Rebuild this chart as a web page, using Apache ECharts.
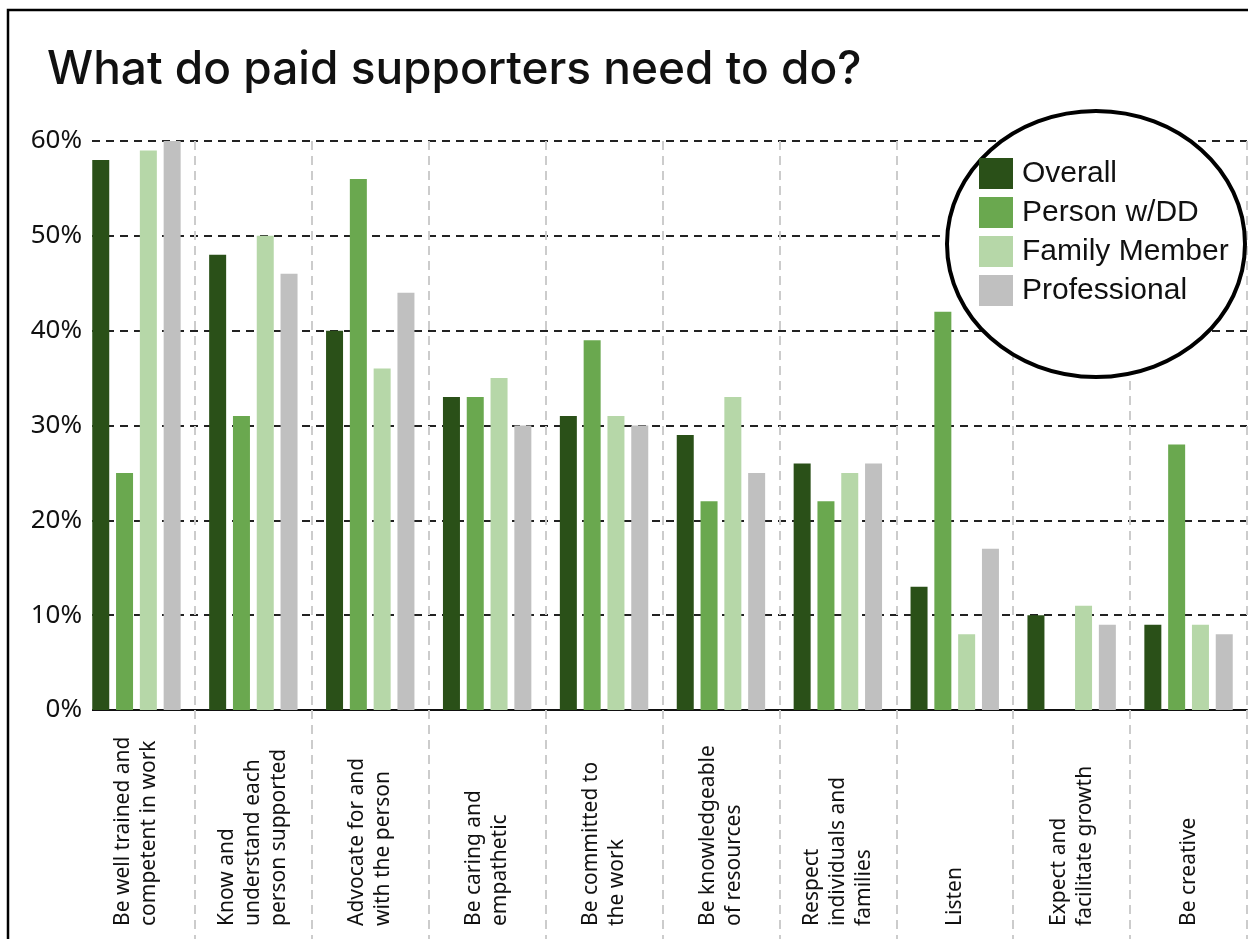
<!DOCTYPE html>
<html>
<head>
<meta charset="utf-8">
<script src="https://cdn.jsdelivr.net/npm/echarts@6/dist/echarts.min.js"></script>
<style>
  html, body { margin: 0; padding: 0; background: #fff; }
  #c_chart { width: 1248px; height: 939px; }
</style>
</head>
<body>
<div id="c_chart"></div>
<script>
// values, in percent
var categories = [
  'Be well trained and\ncompetent in work',
  'Know and\nunderstand each\nperson supported',
  'Advocate for and\nwith the person',
  'Be caring and\nempathetic',
  'Be committed to\nthe work',
  'Be knowledgeable\nof resources',
  'Respect\nindividuals and\nfamilies',
  'Listen',
  'Expect and\nfacilitate growth',
  'Be creative'
];
var seriesNames = ['Overall', 'Person w/DD', 'Family Member', 'Professional'];
var overall      = [58, 48, 40, 33, 31, 29, 26, 13, 10, 9];
var personDD     = [25, 31, 56, 33, 39, 22, 22, 42, 0, 28];
var familyMember = [59, 50, 36, 35, 31, 33, 25, 8, 11, 9];
var professional = [60, 46, 44, 30, 30, 25, 26, 17, 9, 8];
var colors = ['#2a5018', '#6aa84f', '#b6d7a8', '#c0c0c0'];

var dm = document.getElementById('c_chart');
var ch = echarts.init(dm);
var dt = [overall, personDD, familyMember, professional];

var option = {
  animation: false,
  title: {
    text: 'What do paid supporters need to do?',
    left: 42,
    top: 42,
    textStyle: { fontFamily: 'Inter', fontSize: 46, fontWeight: 500, color: '#111' }
  },
  legend: {
    data: seriesNames,
    orient: 'vertical',
    left: 974,
    top: 153,
    itemWidth: 34,
    itemHeight: 31,
    itemGap: 8,
    icon: 'rect',
    textStyle: { fontFamily: 'Liberation Sans', fontSize: 30, color: '#111', padding: [0, 0, 0, 4] }
  },
  grid: { left: 78, right: 1, top: 141, bottom: 229 },
  xAxis: {
    type: 'category',
    data: categories,
    axisLine: { lineStyle: { color: '#111', width: 2 } },
    axisTick: {
      show: true, interval: 0, length: 229,
      lineStyle: { color: '#cccccc', width: 2, type: [9, 6] }
    },
    splitLine: {
      show: true, interval: 0,
      lineStyle: { color: '#cccccc', width: 2, type: [9, 6] }
    },
    axisLabel: {
      interval: 0,
      rotate: 90,
      align: 'left',
      verticalAlign: 'middle',
      margin: 216,
      fontFamily: 'Noto Sans',
      fontSize: 21,
      lineHeight: 26,
      color: '#111'
    }
  },
  yAxis: [
    {
      type: 'value',
      min: 0,
      max: 60,
      interval: 10,
      axisLine: { show: false },
      axisTick: { show: false },
      axisLabel: { show: false },
      splitLine: { lineStyle: { color: '#222', width: 1.8, type: [8, 6] } }
    },
    {
      // labels only, drawn above the white strip
      type: 'value',
      position: 'left',
      z: 200,
      min: 0,
      max: 60,
      interval: 10,
      axisLine: { show: false },
      axisTick: { show: false },
      splitLine: { show: false },
      axisLabel: {
        formatter: '{value}%',
        margin: -4,
        fontFamily: 'Noto Sans',
        fontSize: 26,
        color: '#111'
      }
    }
  ],
  series: dt.map(function (d, i) {
    return {
      name: seriesNames[i],
      type: 'bar',
      yAxisIndex: 0,
      data: d,
      barWidth: 17,
      barGap: '40%',
      itemStyle: { color: colors[i] }
    };
  }),
  graphic: [
    // frame around the figure (only top and left edges visible)
    {
      type: 'rect', z: 100, silent: true,
      shape: { x: 8, y: 10, width: 1400, height: 1100 },
      style: { fill: 'none', stroke: '#000', lineWidth: 2.5 }
    },
    // the gridlines begin a little right of the label column
    {
      type: 'rect', z: 100, silent: true,
      shape: { x: 76, y: 120, width: 16, height: 830 },
      style: { fill: '#fff' }
    },
    // circle behind the legend
    {
      type: 'ellipse', z: 3, silent: true,
      shape: { cx: 1096, cy: 244, rx: 149, ry: 133 },
      style: { fill: '#fff', stroke: '#000', lineWidth: 4 }
    }
  ]
};

ch.setOption(option);
window.onresize = function () {
  ch.resize();
};
</script>
</body>
</html>
